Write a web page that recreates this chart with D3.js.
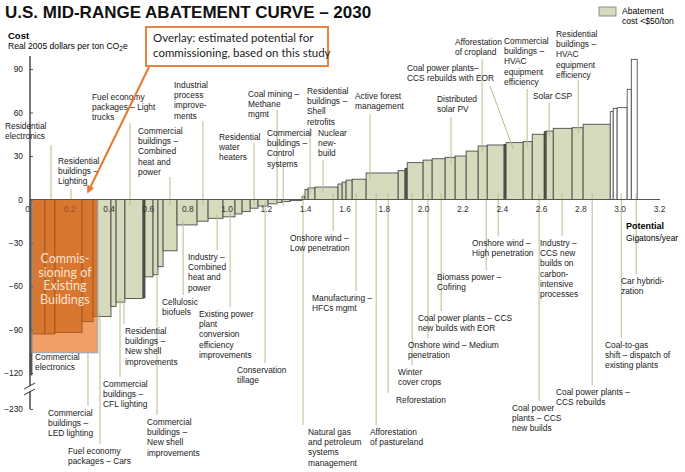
<!DOCTYPE html>
<html><head><meta charset="utf-8">
<script src="https://cdn.jsdelivr.net/npm/d3@7"></script>
<style>
body{margin:0;background:#fff;}
svg{display:block;font-family:"Liberation Sans",Arial,sans-serif;}
</style></head><body>
<svg id="c" width="685" height="472"></svg>
<script>
// ---- DATA ----
// abatement potential of each lever (gigatons CO2e / year), left to right
const widths = [0.010,0.066,0.051,0.138,0.056,0.091,0.026,0.045,0.092,0.010,
  0.041,0.025,0.026,0.071,0.102,0.056,0.076,0.061,0.036,0.041,
  0.040,0.051,0.046,0.025,0.041,0.061,0.015,0.016,0.035,0.117,
  0.021,0.020,0.031,0.071,0.163,0.035,0.011,0.081,0.046,0.066,
  0.051,0.056,0.061,0.046,0.086,0.010,0.087,0.046,0.061,0.010,
  0.036,0.096,0.056,0.138,0.015,0.020,0.051,0.021,0.030];
// cost of each lever (real 2005 $ per ton CO2e)
const costs = [-126,-93,-93,-92,-84.5,-81,-74,-71,-68.5,-68,
  -53.5,-52,-46.5,-35.5,-17.6,-15,-13,-12,-10,-8.4,
  -6,-4.5,-3,-2,-1.5,-0.8,2,7,8,8.6,
  10.7,12,13.4,14,18.3,19.9,21.5,25.4,27.2,28.1,
  29.1,30,33.4,36.9,37.6,38,39.2,39.9,45,46.8,
  47.2,49.1,49.5,51.9,60.6,62.9,63.3,76,96.7];
const xTicks = [0,0.2,0.4,0.6,0.8,1.0,1.2,1.4,1.6,1.8,2.0,2.2,2.4,2.6,2.8,3.0,3.2];
const yTicks = [-230,-120,-90,-60,-30,0,30,60,90];
// overlay: commissioning of existing buildings
const overlayFrom = 0.010, overlayTo = 0.345, overlayCost = -106;

// lever annotations: text lines, gigaton position of the leader
const notesAbove = [
  {t:["Residential","electronics"], at:0.107},
  {t:["Residential","buildings –","Lighting"], at:0.209},
  {t:["Fuel economy","packages – Light","trucks"], at:0.509},
  {t:["Industrial","process","improve-","ments"], at:0.880},
  {t:["Commercial","buildings –","Combined","heat and","power"], at:0.712},
  {t:["Residential","water","heaters"], at:1.140},
  {t:["Coal mining –","Methane","mgmt"], at:1.257},
  {t:["Commercial","buildings –","Control","systems"], at:1.288},
  {t:["Residential","buildings –","Shell","retrofits"], at:1.425},
  {t:["Nuclear","new-","build"], at:1.491},
  {t:["Active forest","management"], at:1.730},
  {t:["Coal power plants–","CCS rebuilds with EOR"], at:2.458},
  {t:["Afforestation","of cropland"], at:2.300},
  {t:["Distributed","solar PV"], at:2.142},
  {t:["Commercial","buildings –","HVAC","equipment","efficiency"], at:2.529},
  {t:["Residential","buildings –","HVAC","equipment","efficiency"], at:2.789},
  {t:["Solar  CSP"], at:2.641}
];
const notesBelow = [
  {t:["Commercial","electronics"], at:0.046},
  {t:["Commercial","buildings –","LED lighting"], at:0.295},
  {t:["Fuel economy","packages – Cars"], at:0.356},
  {t:["Commercial","buildings –","CFL lighting"], at:0.458},
  {t:["Residential","buildings –","New shell","improvements"], at:0.478},
  {t:["Commercial","buildings –","New shell","improvements"], at:0.646},
  {t:["Cellulosic","biofuels"], at:0.779},
  {t:["Industry –","Combined","heat and","power"], at:0.952},
  {t:["Existing power","plant","conversion","efficiency","improvements"], at:1.018},
  {t:["Conservation","tillage"], at:1.196},
  {t:["Onshore wind –","Low penetration"], at:1.542},
  {t:["Manufacturing –","HFCs mgmt"], at:1.659},
  {t:["Natural gas","and petroleum","systems","management"], at:1.389},
  {t:["Afforestation","of pastureland"], at:1.761},
  {t:["Reforestation"], at:1.822},
  {t:["Winter","cover crops"], at:1.944},
  {t:["Onshore wind – Medium","penetration"], at:2.025},
  {t:["Coal power plants – CCS","new builds with EOR"], at:2.092},
  {t:["Biomass power –","Cofiring"], at:2.321},
  {t:["Onshore wind –","High penetration"], at:2.382},
  {t:["Coal power","plants – CCS","new builds"], at:2.590},
  {t:["Industry –","CCS new","builds on","carbon-","intensive","processes"], at:2.707},
  {t:["Coal power plants –","CCS rebuilds"], at:2.860},
  {t:["Coal-to-gas","shift – dispatch of","existing plants"], at:3.008},
  {t:["Car hybridi-","zation"], at:3.084}
];

// ---- LAYOUT (label placement in px: text x, first baseline, leader start) ----
const layoutAbove = [
  [5,129,145],[58,164,189],[92,100,123],[174,88,121],[138,134,177],
  [219,140,143],[248,97,110],[267,136,167],[307,94,128],[318,136,160],
  [355,99,114],[407,71,86],[455,45,59],[437,102,117],[504,44,89],
  [556,37,80],[533,99,103]
];
const layoutBelow = [
  [35,360],[48,416],[68,454],[103,387],[125,334],[147,425],[162,305],
  [188,260],[199,317],[237,373],[290,241],[312,301],[308,435],[370,435],
  [396,403],[398,375],[408,348],[418,321],[437,280],[472,246],[512,411],
  [540,246],[556,395],[605,348],[621,284]
];

const svg = d3.select("#c");
const x = d3.scaleLinear().domain([0,3.2]).range([30,659]);
const y = d3.scaleLinear().domain([-230,-120,0,90]).range([409,373,199.5,69]);

let acc = 0;
const bars = widths.map((w,i)=>{const b={x0:acc,x1:acc+w,c:costs[i]}; acc+=w; return b;});
function costAt(g){const b=bars.find(b=>g>=b.x0&&g<b.x1)||bars[bars.length-1];return b.c;}

const GREEN="#d5dbbc", LEAD="#b9bc90";

// title
svg.append("text").attr("x",5).attr("y",18).attr("font-size",17).attr("font-weight","bold")
  .attr("fill","#111").text("U.S. MID-RANGE ABATEMENT CURVE – 2030");
svg.append("text").attr("x",8).attr("y",39).attr("font-size",9.5).attr("font-weight","bold").text("Cost");
const sub = svg.append("text").attr("x",8).attr("y",49).attr("font-size",8.6);
sub.append("tspan").text("Real 2005 dollars per ton CO");
sub.append("tspan").attr("font-size",6.5).attr("dy",2).text("2");
sub.append("tspan").attr("dy",-2).text("e");

// legend
svg.append("rect").attr("x",599).attr("y",7).attr("width",17).attr("height",9)
  .attr("fill",GREEN).attr("stroke","#777").attr("stroke-width",0.8);
svg.append("text").attr("x",622).attr("y",14).attr("font-size",8.6).text("Abatement");
svg.append("text").attr("x",622).attr("y",24).attr("font-size",8.6).text("cost <$50/ton");

// leaders
const gL = svg.append("g").attr("stroke",LEAD).attr("stroke-width",1);
notesAbove.forEach((n,i)=>{
  const [tx,ty,y1]=layoutAbove[i]; const c=costAt(n.at);
  const yEnd = c>0 ? y(c)+6 : y(0)+6;
  const x1 = i===11 ? 490 : x(n.at);
  gL.append("line").attr("x1",x1).attr("y1",y1).attr("x2",x(n.at)).attr("y2",yEnd);
});
notesBelow.forEach((n,i)=>{
  const [tx,ty]=layoutBelow[i]; const c=costAt(n.at);
  const yStart = c<0 ? y(c)-4 : y(0)-6;
  gL.append("line").attr("x1",x(n.at)).attr("y1",yStart).attr("x2",x(n.at)).attr("y2",ty-10);
});

// bars
function drawBars(g, fillFn, stroke){
  g.selectAll("rect").data(bars).join("rect")
    .attr("x",d=>x(d.x0)).attr("width",d=>x(d.x1)-x(d.x0))
    .attr("y",d=>y(Math.max(0,d.c))).attr("height",d=>Math.abs(y(d.c)-y(0)))
    .attr("fill",fillFn).attr("stroke",stroke).attr("stroke-width",0.8);
}
drawBars(svg.append("g"), d=> (d.x1-d.x0)<=0.011 ? "#5f6152" : (d.c<55?GREEN:"#fff"), "#3a3a3a");

// re-draw leaders inside bars lightly (visible over fills)
svg.node().appendChild(gL.node());

// overlay
const ox0=x(overlayFrom), ox1=x(overlayTo), oy0=y(0), oy1=y(overlayCost);
svg.append("defs").append("clipPath").attr("id","ov").append("rect")
  .attr("x",ox0).attr("y",oy0).attr("width",ox1-ox0).attr("height",oy1-oy0);
svg.append("rect").attr("x",ox0).attr("y",oy0).attr("width",ox1-ox0).attr("height",oy1-oy0)
  .attr("fill","#f0a066");
drawBars(svg.append("g").attr("clip-path","url(#ov)"), d=>"#d8772f", "#9c5220");
svg.append("rect").attr("x",ox0).attr("y",oy0).attr("width",ox1-ox0).attr("height",oy1-oy0)
  .attr("fill","none").attr("stroke","#8da6bd").attr("stroke-width",1);
["Commis-","sioning of","Existing","Buildings"].forEach((s,i)=>{
  svg.append("text").attr("x",(ox0+ox1)/2).attr("y",263+i*13.5).attr("text-anchor","middle")
    .attr("font-family","Lato, 'Open Sans', sans-serif").attr("font-size",12.5)
    .attr("fill","#fbe2cf").text(s);
});

// x axis
const ax = svg.append("g").attr("transform",`translate(0,${y(0)})`)
  .call(d3.axisBottom(x).tickValues(xTicks).tickSize(0).tickSizeOuter(0).tickPadding(7)
    .tickFormat(d=> d===0 ? "0" : d3.format(".1f")(d)));
ax.select(".domain").attr("stroke","#555").attr("stroke-width",1.2).attr("d",`M${x(0)},0H660`);
ax.selectAll("text").attr("font-size",8.4).attr("font-family","Liberation Sans, Arial")
  .attr("fill",d=> (x(d)>ox0+4 && x(d)<ox1) ? "#9a4c1c" : "#333")
  .attr("dx",d=> d===0 ? -3 : 0);

// y axis
const ay = svg.append("g").attr("transform",`translate(${x(0)},0)`)
  .call(d3.axisLeft(y).tickValues(yTicks).tickSize(-3).tickPadding(7).tickFormat(d3.format("d")));
ay.select(".domain").remove();
ay.selectAll(".tick line").attr("stroke","#555");
ay.selectAll("text").attr("font-size",8.4).attr("fill","#222").attr("font-family","Liberation Sans, Arial");
svg.append("line").attr("x1",x(0)).attr("x2",x(0)).attr("y1",56).attr("y2",y(-230))
  .attr("stroke","#555").attr("stroke-width",1.6);
svg.append("path").attr("d",`M${x(0)-5},389 L${x(0)+5},383 L${x(0)+5},388 L${x(0)-5},394Z`).attr("fill","#fff");
svg.append("path").attr("d",`M${x(0)-6},389 L${x(0)+5},383 M${x(0)-6},395 L${x(0)+5},389`)
  .attr("stroke","#333").attr("stroke-width",1);

// axis title (x)
svg.append("text").attr("x",626).attr("y",229).attr("font-size",9).attr("font-weight","bold").text("Potential");
svg.append("text").attr("x",626).attr("y",241).attr("font-size",8.4).text("Gigatons/year");

// annotation texts
function lines(g, arr, tx, ty){
  const t=g.append("text").attr("x",tx).attr("y",ty).attr("font-size",8.4).attr("fill","#1a1a1a");
  arr.forEach((s,i)=>t.append("tspan").attr("x",tx).attr("y",ty+i*10.2).text(s));
}
const gT = svg.append("g");
notesAbove.forEach((n,i)=>lines(gT,n.t,layoutAbove[i][0],layoutAbove[i][1]));
notesBelow.forEach((n,i)=>lines(gT,n.t,layoutBelow[i][0],layoutBelow[i][1]));

// callout
svg.append("defs").append("marker").attr("id","arr").attr("viewBox","0 0 10 10")
  .attr("refX",8).attr("refY",5).attr("markerWidth",4).attr("markerHeight",4).attr("orient","auto")
  .append("path").attr("d","M0,0L10,5L0,10Z").attr("fill","#e8772e");
svg.append("line").attr("x1",149).attr("y1",67).attr("x2",88).attr("y2",192)
  .attr("stroke","#e8772e").attr("stroke-width",2).attr("marker-end","url(#arr)");
svg.append("rect").attr("x",146).attr("y",27).attr("width",182).attr("height",39)
  .attr("fill","#fff").attr("stroke","#e8772e").attr("stroke-width",1.8);
["Overlay: estimated potential for","commissioning, based on this study"].forEach((s,i)=>{
  svg.append("text").attr("x",153).attr("y",42+i*15).attr("font-family","Lato, 'Open Sans', sans-serif")
    .attr("font-size",11.5).attr("fill","#222").text(s);
});
</script>
</body></html>
